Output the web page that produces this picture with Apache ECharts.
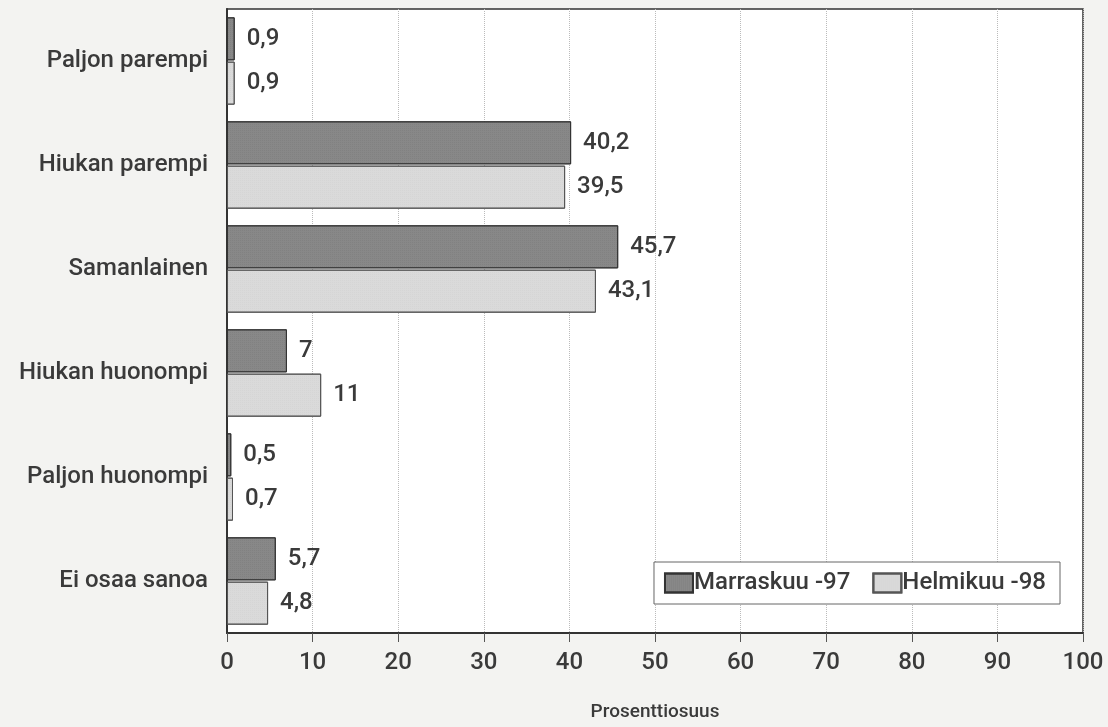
<!DOCTYPE html>
<html><head><meta charset="utf-8">
<script src="https://cdn.jsdelivr.net/npm/echarts@6/dist/echarts.min.js"></script>
<style>html,body{margin:0;padding:0;background:#f3f3f1;}#c{width:1108px;height:727px;}</style>
</head><body><div id="c"></div>
<script>
const categories = ['Paljon parempi','Hiukan parempi','Samanlainen','Hiukan huonompi','Paljon huonompi','Ei osaa sanoa'];
const seriesNames = ['Marraskuu -97','Helmikuu -98'];
const marraskuu = [0.9, 40.2, 45.7, 7, 0.5, 5.7];
const helmikuu = [0.9, 39.5, 43.1, 11, 0.7, 4.8];
const xTicks = [0,10,20,30,40,50,60,70,80,90,100];
const FONT = 'Roboto,"Noto Sans",sans-serif';
const chart = echarts.init(document.getElementById('c'));
const lbl = {show:true, position:'right', distance:12, fontSize:24, fontWeight:500, color:'#3a3a3a', fontFamily:FONT,
  formatter: p => String(p.value).replace('.', ',')};
chart.setOption({
  backgroundColor:'#f3f3f1',
  textStyle:{fontFamily:FONT},
  grid:{left:227, right:25, top:9, bottom:92, show:true, backgroundColor:'#ffffff', borderColor:'#333', borderWidth:1.5},
  legend:{data:seriesNames, right:48, top:562, orient:'horizontal', borderColor:'#666', borderWidth:1,
    padding:[9,14,9,10], itemGap:22, itemWidth:28, itemHeight:19, backgroundColor:'#fff', icon:'rect',
    textStyle:{fontSize:24, fontWeight:500, color:'#3a3a3a', fontFamily:FONT, padding:[0,0,0,-4]}},
  xAxis:{type:'value', min:0, max:100, interval:10,
    axisLine:{show:true, lineStyle:{color:'#333', width:2}},
    axisTick:{show:true, length:9, lineStyle:{color:'#555'}},
    axisLabel:{fontSize:24, fontWeight:500, color:'#3a3a3a', margin:18, fontFamily:FONT, formatter: v => xTicks.includes(v) ? String(v) : ''},
    splitLine:{show:true, lineStyle:{color:'#bbb', type:'dotted'}},
    name:'Prosenttiosuus', nameLocation:'middle', nameGap:70, nameTextStyle:{fontSize:19, fontWeight:500, color:'#3a3a3a', fontFamily:FONT}},
  yAxis:{type:'category', data:categories, inverse:true,
    axisLine:{show:true, lineStyle:{color:'#333', width:2}},
    axisTick:{show:false},
    axisLabel:{fontSize:24, fontWeight:500, color:'#3a3a3a', margin:19, fontFamily:FONT}},
  series:[
    {name:seriesNames[0], type:'bar', data:marraskuu, barCategoryGap:'16%', barGap:'3%',
      itemStyle:{color:'#888888', borderColor:'#333', borderWidth:1,
        decal:{symbol:'rect', symbolSize:0.5, color:'rgba(40,40,40,0.25)', dashArrayX:[1,1], dashArrayY:[1,1], rotation:0}},
      label:lbl},
    {name:seriesNames[1], type:'bar', data:helmikuu,
      itemStyle:{color:'#dadada', borderColor:'#555', borderWidth:1,
        decal:{symbol:'rect', symbolSize:0.5, color:'rgba(120,120,120,0.2)', dashArrayX:[1,1], dashArrayY:[1,1], rotation:0}},
      label:lbl}
  ]
});
</script></body></html>
